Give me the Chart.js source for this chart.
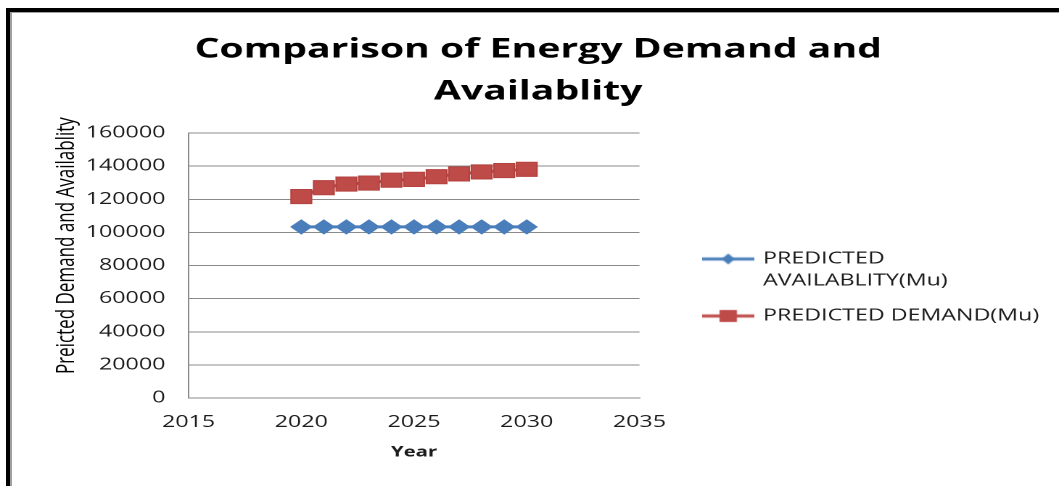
<!DOCTYPE html>
<html>
<head>
<meta charset="utf-8">
<script src="https://cdn.jsdelivr.net/npm/chart.js@4/dist/chart.umd.min.js"></script>
<style>
  html, body { margin: 0; padding: 0; background: #fff; overflow: hidden; }
  body { width: 1059px; height: 486px; position: relative; }
  #chart {
    position: absolute; left: 0; top: 0;
    transform-origin: 0 0;
  }
  .frame {
    position: absolute; left: 6px; top: 8px; width: 1100px; height: 520px;
    border-left: 4px solid #000; border-top: 4px solid #000;
    pointer-events: none;
  }
  .frame::after {
    content: ""; position: absolute; left: 0; top: 0; right: 0; bottom: 0;
    border-left: 2px solid #a0a0a0; border-top: 1px solid #a0a0a0;
  }
</style>
</head>
<body>
<canvas id="chart" width="730" height="486"></canvas>
<div class="frame"></div>
<script>
// ---- data ----
const years = [2020, 2021, 2022, 2023, 2024, 2025, 2026, 2027, 2028, 2029, 2030];
const predictedAvailability = [103300, 103300, 103300, 103300, 103300, 103300, 103300, 103300, 103300, 103300, 103300];
const predictedDemand = [121600, 127000, 129200, 129800, 131500, 132000, 133600, 135300, 136500, 137300, 138100];
const xTicks = [2015, 2020, 2025, 2030, 2035];
const yTicks = [0, 20000, 40000, 60000, 80000, 100000, 120000, 140000, 160000];

const titleLines = ['Comparison of Energy Demand and', 'Availablity'];
const xTitle = 'Year';
const yTitle = 'Preicted Demand and Availablity';
const availabilityLegend = ['PREDICTED', 'AVAILABLITY(Mu)'];
const demandLegend = 'PREDICTED DEMAND(Mu)';

// ---- styling ----
const BLUE = '#4A7EBB';
const RED = '#BE4B48';
const GRID = '#8a8a8a';
const TEXT = '#1c1c1c';
const FONT = "'Open Sans', sans-serif";

// the drawing is laid out on a 730px wide canvas and widened to 1059px
const canvas = document.getElementById('chart');
canvas.style.transform = 'scaleX(' + (1059 / 730) + ')';

Chart.defaults.font.family = FONT;
Chart.defaults.color = TEXT;

function legendSample(color, shape) {
  const c = document.createElement('canvas');
  c.width = 36; c.height = 16;
  const g = c.getContext('2d');
  g.strokeStyle = color; g.lineWidth = 3;
  g.beginPath(); g.moveTo(0, 8); g.lineTo(36, 8); g.stroke();
  g.fillStyle = color;
  if (shape === 'diamond') {
    g.beginPath();
    g.moveTo(13.5, 8); g.lineTo(18, 2.5); g.lineTo(22.5, 8); g.lineTo(18, 13.5);
    g.closePath(); g.fill();
  } else {
    g.fillRect(12, 2, 12, 12);
  }
  return c;
}
const legendLines = [availabilityLegend, demandLegend];
const legendSamples = [legendSample(BLUE, 'diamond'), legendSample(RED, 'square')];

// places the legend block to the right of the plot
const legendSlot = {
  id: 'legendSlot',
  afterLayout(chart, args, opts) {
    const lg = chart.legend;
    if (!lg) return;
    const w = lg.width;
    lg.left = opts.left; lg.right = opts.left + w;
    lg.top = opts.top; lg.height = opts.height; lg.bottom = opts.top + opts.height;
  }
};

new Chart(canvas, {
  type: 'line',
  data: {
    datasets: [
      {
        label: availabilityLegend.join(' '),
        data: years.map((yr, i) => ({ x: yr, y: predictedAvailability[i] })),
        borderColor: BLUE, backgroundColor: BLUE,
        borderWidth: 3,
        pointStyle: 'rectRot', pointRadius: 7, pointBorderWidth: 1,
        pointBackgroundColor: BLUE, pointBorderColor: BLUE
      },
      {
        label: demandLegend,
        data: years.map((yr, i) => ({ x: yr, y: predictedDemand[i] })),
        borderColor: RED, backgroundColor: RED,
        borderWidth: 3,
        pointStyle: 'rect', pointRadius: 10, pointBorderWidth: 1,
        pointBackgroundColor: RED, pointBorderColor: '#b3423f'
      }
    ]
  },
  options: {
    responsive: false,
    animation: false,
    devicePixelRatio: 2,
    layout: { padding: { left: 12, top: 0, right: 0, bottom: 0 } },
    scales: {
      x: {
        type: 'linear',
        min: xTicks[0], max: xTicks[xTicks.length - 1],
        afterBuildTicks(s) { s.ticks = xTicks.map(v => ({ value: v })); },
        afterFit(s) { s.height = 88; },
        grid: { display: false, drawTicks: false },
        border: { display: true, color: GRID, width: 1 },
        ticks: {
          padding: 15, color: TEXT,
          font: { size: 16 },
          callback: v => String(v)
        },
        title: {
          display: true, text: xTitle, color: TEXT,
          font: { size: 14, weight: 'bold' },
          padding: { top: 0, bottom: 25 }
        }
      },
      y: {
        min: yTicks[0], max: yTicks[yTicks.length - 1],
        afterBuildTicks(s) { s.ticks = yTicks.map(v => ({ value: v })); },
        afterFit(s) { s.width = 118; },
        grid: { color: GRID, lineWidth: 1, drawTicks: false },
        border: { display: true, color: GRID, width: 1 },
        ticks: {
          padding: 16, color: TEXT,
          font: { size: 16 },
          callback: v => String(v)
        },
        title: {
          display: true,
          // leading spaces lift the rotated caption towards the top of the axis
          text: '         ' + yTitle,
          color: '#000',
          font: { size: 17, weight: '500' },
          padding: { top: 24, bottom: 0 }
        }
      },
      edge: {
        position: 'right',
        afterFit(s) { s.width = 289.2; },
        grid: { display: false },
        border: { display: false },
        ticks: { display: false }
      }
    },
    plugins: {
      title: {
        display: true,
        text: titleLines,
        color: '#000',
        font: { size: 27, weight: 'bold', lineHeight: 42 / 27 },
        padding: { top: 29, bottom: 20 }
      },
      legend: {
        position: 'chartArea',
        align: 'start',
        labels: {
          usePointStyle: true,
          pointStyleWidth: 32,
          padding: 13,
          color: TEXT,
          font: { size: 16, lineHeight: 1.375 },
          generateLabels(chart) {
            return chart.data.datasets.map((ds, i) => ({
              text: legendLines[i],
              pointStyle: legendSamples[i],
              fillStyle: ds.borderColor,
              strokeStyle: ds.borderColor,
              fontColor: TEXT,
              lineWidth: 0,
              hidden: false,
              datasetIndex: i
            }));
          }
        }
      },
      legendSlot: { left: 473, top: 238, height: 220 },
      tooltip: { enabled: false }
    }
  },
  plugins: [legendSlot]
});
</script>
</body>
</html>
